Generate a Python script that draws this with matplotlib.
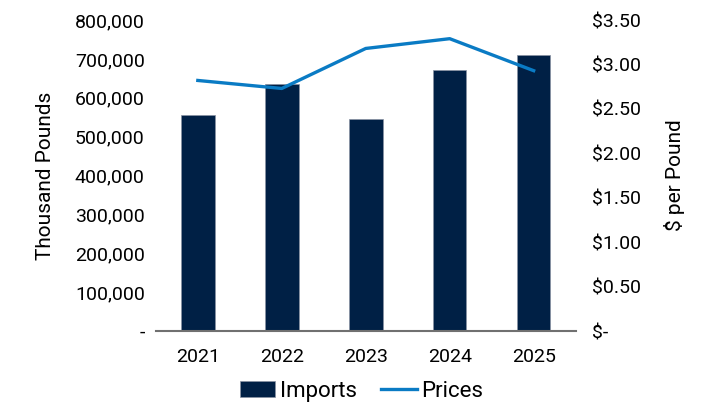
import matplotlib.pyplot as plt
from matplotlib.ticker import FuncFormatter

plt.rcParams['font.family'] = ['Liberation Sans Narrow', 'Roboto', 'DejaVu Sans']

years = ["2021", "2022", "2023", "2024", "2025"]
imports = [556000, 635000, 545000, 671000, 710000]  # thousand pounds
prices = [2.82, 2.73, 3.18, 3.29, 2.93]  # dollars per pound

navy = "#002045"
blue = "#0a7bc4"

fig = plt.figure(figsize=(7.02, 4.17), dpi=100)
ax = fig.add_axes([0.222, 0.206, 0.598, 0.746])
x = range(len(years))
ax.bar(x, imports, width=0.4, color=navy, edgecolor="#8a93a3", linewidth=0.5,
       label="Imports", zorder=2)
ax.set_xlim(-0.5, len(years) - 0.5)
ax.set_ylim(0, 800000)
ax.set_yticks(range(0, 800001, 100000))
ax.yaxis.set_major_formatter(FuncFormatter(lambda v, p: "-" if v == 0 else f"{v:,.0f}"))
ax.set_xticks(list(x))
ax.set_xticklabels(years)
ax.tick_params(axis="both", length=0, labelsize=14)
ax.tick_params(axis="y", pad=8)
ax.tick_params(axis="x", pad=12)
for s in ["top", "left", "right"]:
    ax.spines[s].set_visible(False)
ax.spines["bottom"].set_color("#707070")
ax.spines["bottom"].set_linewidth(1.5)
ax.set_ylabel("Thousand Pounds", fontsize=15, labelpad=14)

ax2 = ax.twinx()
ax2.plot(list(x), prices, color=blue, linewidth=2.4, label="Prices", zorder=3)
ax2.set_ylim(0, 3.5)
ax2.set_yticks([i * 0.5 for i in range(8)])
ax2.yaxis.set_major_formatter(FuncFormatter(lambda v, p: "$-" if v == 0 else f"${v:.2f}"))
ax2.tick_params(axis="y", length=0, labelsize=14, pad=12)
for s in ["top", "left", "right", "bottom"]:
    ax2.spines[s].set_visible(False)
ax2.set_ylabel("$ per Pound", fontsize=15, labelpad=16)

h1, l1 = ax.get_legend_handles_labels()
h2, l2 = ax2.get_legend_handles_labels()
fig.legend(h1 + h2, l1 + l2, loc="lower center", bbox_to_anchor=(0.515, -0.012), ncol=2,
           frameon=False, fontsize=16, handlelength=1.6, handletextpad=0.2,
           columnspacing=1.1)

fig.savefig("out.png", dpi=100)
